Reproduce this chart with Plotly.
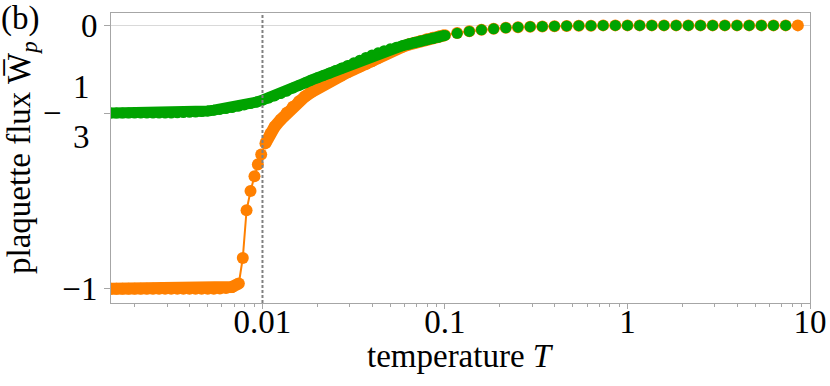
import plotly.graph_objects as go

# temperature grid (dense below 0.1, sparse above)
T_green = [
    0.001468, 0.001585, 0.001711, 0.001848, 0.001995, 0.002154, 0.002326, 0.002512,
    0.002712, 0.002929, 0.003162, 0.003415, 0.003687, 0.003981, 0.004299, 0.004642,
    0.005012, 0.005412, 0.005843, 0.006310, 0.006813, 0.007356, 0.007943, 0.008577,
    0.009261, 0.01, 0.010798, 0.011659, 0.012589, 0.013594, 0.014678, 0.015849,
    0.017113, 0.018478, 0.019953, 0.021544, 0.023263, 0.025119, 0.027123, 0.029286,
    0.031623, 0.034145, 0.036869, 0.039811, 0.042987, 0.046416, 0.050119, 0.054117,
    0.058434, 0.063096, 0.068129, 0.073564, 0.079433, 0.085770, 0.092612, 0.1,
    0.11659, 0.13594, 0.15849, 0.18478, 0.21544, 0.25119, 0.29286, 0.34145, 0.39811,
    0.46416, 0.54117, 0.63096, 0.73564, 0.85770, 1.0, 1.1659, 1.3594, 1.5849, 1.8478,
    2.1544, 2.5119, 2.9286, 3.4145, 3.9811, 4.6416, 5.4117, 6.3096, 7.3564,
]
W_green = [
    -0.333, -0.333, -0.333, -0.333, -0.333, -0.333, -0.333, -0.333,
    -0.333, -0.333, -0.333, -0.332, -0.331, -0.330, -0.329, -0.327,
    -0.325, -0.322, -0.319, -0.316, -0.312, -0.307, -0.302, -0.297,
    -0.291, -0.284, -0.276, -0.268, -0.259, -0.250, -0.238, -0.228,
    -0.218, -0.208, -0.199, -0.190, -0.181, -0.171, -0.162, -0.152,
    -0.142, -0.132, -0.122, -0.112, -0.104, -0.096, -0.089, -0.083,
    -0.077, -0.071, -0.065, -0.060, -0.055, -0.050, -0.045, -0.038,
    -0.030, -0.023, -0.017, -0.013, -0.009, -0.007, -0.005, -0.004, -0.003,
    -0.002, -0.001, -0.001, 0.0, 0.0, 0.0, 0.0, 0.0, 0.0, 0.0,
    0.0, 0.0, 0.0, 0.0, 0.0, 0.0, 0.0, 0.0, 0.0,
]

T_orange = [
    0.001468, 0.001585, 0.001711, 0.001848, 0.001995, 0.002154, 0.002326, 0.002512,
    0.002712, 0.002929, 0.003162, 0.003415, 0.003687, 0.003981, 0.004299, 0.004642,
    0.005012, 0.005412, 0.005843, 0.006310, 0.006813, 0.00742, 0.00780, 0.00818,
    0.00860, 0.00904, 0.00943, 0.00984, 0.01038, 0.01106, 0.011659, 0.012589,
    0.013594, 0.014678, 0.015849, 0.017113, 0.018478, 0.019953, 0.021544, 0.023263,
    0.025119, 0.027123, 0.029286, 0.031623, 0.034145, 0.036869, 0.039811, 0.042987,
    0.046416, 0.050119, 0.054117, 0.058434, 0.063096, 0.068129, 0.073564, 0.079433,
    0.085770, 0.092612, 0.1,
    0.11659, 0.13594, 0.15849, 0.18478, 0.21544, 0.25119, 0.29286, 0.34145, 0.39811,
    0.46416, 0.54117, 0.63096, 0.73564, 0.85770, 1.0, 1.1659, 1.3594, 1.5849, 1.8478,
    2.1544, 2.5119, 2.9286, 3.4145, 3.9811, 4.6416, 5.4117, 6.3096, 7.3564, 8.5770,
]
W_orange = [
    -1.0, -1.0, -1.0, -1.0, -1.0, -1.0, -1.0, -1.0,
    -1.0, -1.0, -1.0, -1.0, -1.0, -1.0, -1.0, -1.0,
    -1.0, -1.0, -0.999, -0.997, -0.993, -0.980, -0.883, -0.702,
    -0.629, -0.573, -0.528, -0.490, -0.448, -0.410, -0.385, -0.358,
    -0.332, -0.309, -0.288, -0.270, -0.254, -0.239, -0.226, -0.213,
    -0.201, -0.190, -0.178, -0.166, -0.156, -0.147, -0.136, -0.124,
    -0.112, -0.100, -0.090, -0.081, -0.073, -0.066, -0.059, -0.053,
    -0.047, -0.042, -0.037,
    -0.029, -0.022, -0.017, -0.013, -0.009, -0.007, -0.005, -0.004, -0.003,
    -0.002, -0.001, -0.001, 0.0, 0.0, 0.0, 0.0, 0.0, 0.0, 0.0,
    0.0, 0.0, 0.0, 0.0, 0.0, 0.0, 0.0, 0.0, 0.0, 0.0,
]

T_c = 0.01
x_ticks = [0.01, 0.1, 1, 10]
x_ticktext = ["0.01", "0.1", "1", "10"]
y_ticks = [0, -1 / 3, -1]
y_ticktext = ["0", "", "\u22121"]

ORANGE = "#ff8000"
GREEN = "#00a300"
AXIS = "#a6a6a6"
FONT = "Liberation Serif"
FS = 33
S_OR, S_GR = 12, 11


def band(fig, T, W, i0, i1, color, width):
    # densely sampled stretch: the overlapping markers read as one smooth band
    fig.add_scatter(x=T[i0:i1], y=W[i0:i1], mode="lines", hoverinfo="skip",
                    line=dict(color=color, width=width), showlegend=False)


fig = go.Figure()
band(fig, T_orange, W_orange, 0, 22, ORANGE, S_OR)
band(fig, T_orange, W_orange, 28, 59, ORANGE, S_OR)
fig.add_scatter(x=T_orange, y=W_orange, mode="lines+markers",
                line=dict(color=ORANGE, width=2),
                marker=dict(color=ORANGE, size=S_OR), showlegend=False)
band(fig, T_green, W_green, 0, 56, GREEN, S_GR)
fig.add_scatter(x=T_green, y=W_green, mode="markers",
                marker=dict(color=GREEN, size=S_GR), showlegend=False)

fig.add_shape(type="line", xref="x", yref="paper", x0=T_c, x1=T_c, y0=0, y1=1,
              line=dict(color="#808080", width=2, dash="3px,2px"), layer="above")

# -1/3 tick label written as a stacked fraction
frac = dict(xref="paper", yref="y", x=0, y=-1 / 3, showarrow=False,
            font=dict(family=FONT, size=FS, color="black"))
fig.add_annotation(text="\u2212", xanchor="right", xshift=-47, yshift=0, **frac)
fig.add_annotation(text="1", xanchor="right", xshift=-19, yshift=26, **frac)
fig.add_annotation(text="3", xanchor="right", xshift=-19, yshift=-24, **frac)
fig.add_annotation(text="(b)", xref="paper", yref="paper", x=-0.16, y=1.05,
                   xanchor="left", yanchor="top", showarrow=False,
                   font=dict(family=FONT, size=FS, color="black"))
# axis titles
fig.add_annotation(text="temperature <i>T</i>", xref="paper", yref="paper", x=0.5, y=0,
                   xanchor="center", yanchor="middle", yshift=-53, showarrow=False,
                   font=dict(family=FONT, size=FS, color="black"))
fig.add_annotation(text="plaquette flux W\u0305<sub><i>p</i></sub>", xref="paper", yref="paper",
                   x=0, y=0.5, xanchor="center", yanchor="middle", xshift=-90, yshift=0,
                   textangle=-90, showarrow=False,
                   font=dict(family=FONT, size=FS, color="black"))

fig.update_xaxes(type="log", range=[-2.83, 1.0], tickvals=x_ticks, ticktext=x_ticktext,
                 ticks="outside", ticklen=5, tickcolor=AXIS, showgrid=False,
                 tickfont=dict(size=FS), ticklabelstandoff=-16, automargin=False,
                 minor=dict(ticks="outside", ticklen=3, tickcolor=AXIS, dtick="D1", showgrid=False),
                 showline=True, linecolor=AXIS, linewidth=1, mirror=True)
fig.update_yaxes(range=[-1.054, 0.047], tickvals=y_ticks, ticktext=y_ticktext,
                 ticks="outside", ticklen=6, tickcolor=AXIS, showgrid=False,
                 tickfont=dict(size=FS), automargin=False,
                 zeroline=True, zerolinecolor="#d9d9d9", zerolinewidth=1,
                 showline=True, linecolor=AXIS, linewidth=1, mirror=True)
fig.update_layout(width=830, height=386, margin=dict(l=111, r=20, t=13, b=83),
                  paper_bgcolor="white", plot_bgcolor="white",
                  font=dict(family=FONT, size=30, color="black"))
# drop the browser's default 8px body margin so the figure sits at the page origin
fig.write_html("out.html", config={"displayModeBar": False},
               post_script="document.body.style.margin = '0';")
